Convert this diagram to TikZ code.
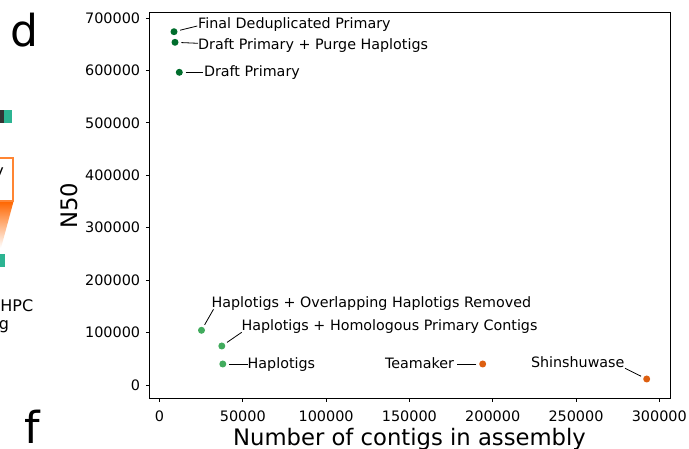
\documentclass[tikz,border=0pt]{standalone}
\usepackage{fontspec}
\setmainfont{DejaVu Sans}
\definecolor{dkgreen}{HTML}{006D2C}
\definecolor{ltgreen}{HTML}{41AB5D}
\definecolor{orng}{HTML}{DD5F10}
\definecolor{tealc}{RGB}{44,180,146}
\definecolor{boxorange}{HTML}{FF8533}
\definecolor{gradorange}{HTML}{FF6600}
\definecolor{darkbar}{HTML}{333333}
\begin{document}
\begin{tikzpicture}[x=1pt,y=-1pt,
  dot/.style={circle,inner sep=0pt,minimum size=7pt},
  ann/.style={inner sep=0pt,font=\fontsize{14.3}{16}\selectfont},
  ticklab/.style={inner sep=0pt,font=\fontsize{14.4}{16}\selectfont},
  axlab/.style={inner sep=0pt,font=\fontsize{22.7}{25}\selectfont},
  panel/.style={inner sep=0pt,font=\fontsize{44}{48}\selectfont},
  frag/.style={inner sep=0pt,font=\fontsize{16}{18}\selectfont},
  lead/.style={draw=black,line width=0.8pt,shorten <=2.6pt},
  spine/.style={line width=0.9pt,draw=black}]
\useasboundingbox (0,0) rectangle (689,449);

% ---------- left fragments ----------
\fill[darkbar] (-2,110) rectangle (4,122.7);
\fill[tealc] (4,110) rectangle (12.3,122.7);
\shade[top color=gradorange, bottom color=white] (-10,201.5) -- (13.5,201.5) -- (1,248) -- (-10,248) -- cycle;
\draw[boxorange, line width=2pt, fill=white] (-10,158.3) rectangle (12.7,200.7);
\node[frag, anchor=base east] (ytxt) at (4,177) {y};
\fill[tealc] (-2,254) rectangle (5,266.7);
\node[frag, anchor=base east] (hpc) at (33.5,311.7) {HPC};
\node[frag, anchor=base east] (gtxt) at (9.2,329.5) {g};

% ---------- panel letters ----------
\node[panel, anchor=base west] (pd) at (10.5,47) {d};
\node[panel, anchor=base west] (pf) at (24,443) {f};

% ---------- axes ----------
\draw[spine] (149.3,12.3) rectangle (670,398.3);
\foreach \k/\lab in {0/0,1/100000,2/200000,3/300000,4/400000,5/500000,6/600000,7/700000}{
  \pgfmathsetmacro{\yy}{385-\k*52.43}
  \draw[line width=0.8pt] (145.8,\yy) -- (149.3,\yy);
  \node[ticklab, anchor=east] (yt\k) at (140.3,\yy) {\lab};
}
\foreach \k/\lab in {0/0,1/50000,2/100000,3/150000,4/200000,5/250000,6/300000}{
  \pgfmathsetmacro{\xx}{159.5+\k*83.3}
  \draw[line width=0.8pt] (\xx,398.3) -- (\xx,401.8);
  \node[ticklab, anchor=base] (xt\k) at (\xx,421) {\lab};
}
\node[axlab, anchor=base] (xlab) at (409.5,446) {Number of contigs in assembly};
\node[axlab, anchor=base, rotate=90] (ylab) at (77,205.5) {N50};

% ---------- data points ----------
\node[dot, fill=dkgreen] (fd) at (174,31.7) {};
\node[dot, fill=dkgreen] (dpph) at (175,42.3) {};
\node[dot, fill=dkgreen] (dp) at (179.3,72.3) {};
\node[dot, fill=ltgreen] (hor) at (201.5,330.3) {};
\node[dot, fill=ltgreen] (hhp) at (221.8,346) {};
\node[dot, fill=ltgreen] (hap) at (222.8,364) {};
\node[dot, fill=orng] (tea) at (482.7,364) {};
\node[dot, fill=orng] (shin) at (646.7,379) {};

% ---------- labels ----------
\node[ann, anchor=base west] (fdl) at (198,28.3) {Final Deduplicated Primary};
\node[ann, anchor=base west] (dpphl) at (198,49.3) {Draft Primary + Purge Haplotigs};
\node[ann, anchor=base west] (dpl) at (203.8,77) {Draft Primary};
\node[ann, anchor=base west] (horl) at (211.4,307.3) {Haplotigs + Overlapping Haplotigs Removed};
\node[ann, anchor=base west] (hhpl) at (241.3,331) {Haplotigs + Homologous Primary Contigs};
\node[ann, anchor=base west] (hapl) at (247.5,369) {Haplotigs};
\node[ann, anchor=base east] (teal) at (454.3,368.5) {Teamaker};
\node[ann, anchor=base west] (shinl) at (530.8,367.3) {Shinshuwase};

% ---------- leaders ----------
\coordinate (fdE) at (197.3,26);
\coordinate (dpphE) at (198,43.3);
\coordinate (dpE) at (203,72.3);
\coordinate (horE) at (213.5,309.3);
\coordinate (hhpE) at (241.7,332.3);
\coordinate (hapE) at (247.5,364);
\coordinate (teaE) at (457.3,364);
\coordinate (shinE) at (625,368.3);
\draw[lead] (fd) -- (fdE);
\draw[lead] (dpph) -- (dpphE);
\draw[lead] (dp) -- (dpE);
\draw[lead] (hor) -- (horE);
\draw[lead] (hhp) -- (hhpE);
\draw[lead] (hap) -- (hapE);
\draw[lead] (tea) -- (teaE);
\draw[lead] (shin) -- (shinE);
\end{tikzpicture}
\end{document}
